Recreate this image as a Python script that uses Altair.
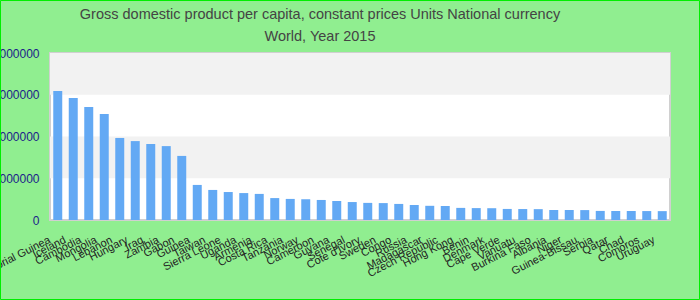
import altair as alt
import pandas as pd

countries = ["Equatorial Guinea", "Iceland", "Cambodia", "Mongolia", "Lebanon", "Hungary", "Iraq",
             "Zambia", "Gabon", "Guinea", "Taiwan", "Sierra Leone", "Uganda", "Armenia", "Costa Rica",
             "Tanzania", "Norway", "Cameroon", "Guyana", "Senegal", "Cote d'Ivory", "Sweden", "Congo",
             "Russia", "Madagascar", "Czech Republic", "Hong Kong", "Benin", "Denmark", "Cape Verde",
             "Vanuatu", "Burkina Faso", "Albania", "Niger", "Guinea-Bissau", "Serbia", "Qatar", "Chad",
             "Comoros", "Uruguay"]
values = [6180000, 5840000, 5410000, 5080000, 3930000, 3780000, 3640000, 3540000, 3070000, 1680000,
          1440000, 1340000, 1290000, 1250000, 1050000, 1010000, 1000000, 960000, 910000, 860000,
          820000, 810000, 770000, 720000, 680000, 670000, 580000, 570000, 565000, 530000,
          525000, 520000, 480000, 478000, 475000, 435000, 432000, 430000, 428000, 425000]
band_lo = [2000000, 6000000]
band_hi = [4000000, 8000000]
y_ticks = [0, 2000000, 4000000, 6000000, 8000000]
title_lines = ["Gross domestic product per capita, constant prices Units National currency",
               "World, Year 2015"]

df = pd.DataFrame({"country": countries, "value": values})
bands = pd.DataFrame({"lo": band_lo, "hi": band_hi})

FONT = "Liberation Sans"
W, H = 620, 167

band_layer = alt.Chart(bands).mark_rect(color="#f2f2f2").encode(
    x=alt.value(0), x2=alt.value(W),
    y=alt.Y("lo:Q", scale=alt.Scale(domain=[0, 8000000])),
    y2="hi:Q",
)

bars = alt.Chart(df).mark_bar(color="#63a9f4").encode(
    x=alt.X("country:N", sort=None, title=None,
            scale=alt.Scale(paddingInner=0.42, paddingOuter=0.21),
            axis=alt.Axis(labelAngle=-27, labelAlign="right", labelBaseline="middle",
                          labelFontSize=11, labelColor="#222222", labelFont=FONT,
                          ticks=False, domain=False, labelPadding=19, labelOffset=-8,
                          labelOverlap=False)),
    y=alt.Y("value:Q", title=None, scale=alt.Scale(domain=[0, 8000000], nice=False),
            axis=alt.Axis(values=y_ticks, format="d", labelColor="#1c1c8a", labelFontSize=12,
                          labelFont=FONT, ticks=False, domain=False, grid=False, labelPadding=11)),
)

title1 = alt.Chart(pd.DataFrame({"t": [title_lines[0]]})).mark_text(
    font=FONT, fontSize=14.5, color="#444444", align="center", baseline="alphabetic", clip=False
).encode(text="t:N", x=alt.value(270), y=alt.value(-34))

title2 = alt.Chart(pd.DataFrame({"t": [title_lines[1]]})).mark_text(
    font=FONT, fontSize=14.5, color="#444444", align="center", baseline="alphabetic", clip=False
).encode(text="t:N", x=alt.value(270), y=alt.value(-12))

border = alt.Chart(pd.DataFrame({"a": [0]})).mark_rect(
    fill="transparent", stroke="#00ee00", strokeWidth=1, clip=False
).encode(x=alt.value(-49.5), x2=alt.value(649.5), y=alt.value(-52.5), y2=alt.value(246.5))

chart = alt.layer(band_layer, bars, title1, title2, border).properties(
    width=W, height=H,
    autosize=alt.AutoSizeParams(type="none"),
    padding={"left": 50, "top": 53, "right": 30, "bottom": 80},
    background="#90ee90",
).configure_view(stroke="#d0d0d0", strokeWidth=2, fill="white")

chart.save("out.html", embed_options={"renderer": "svg", "actions": False})
